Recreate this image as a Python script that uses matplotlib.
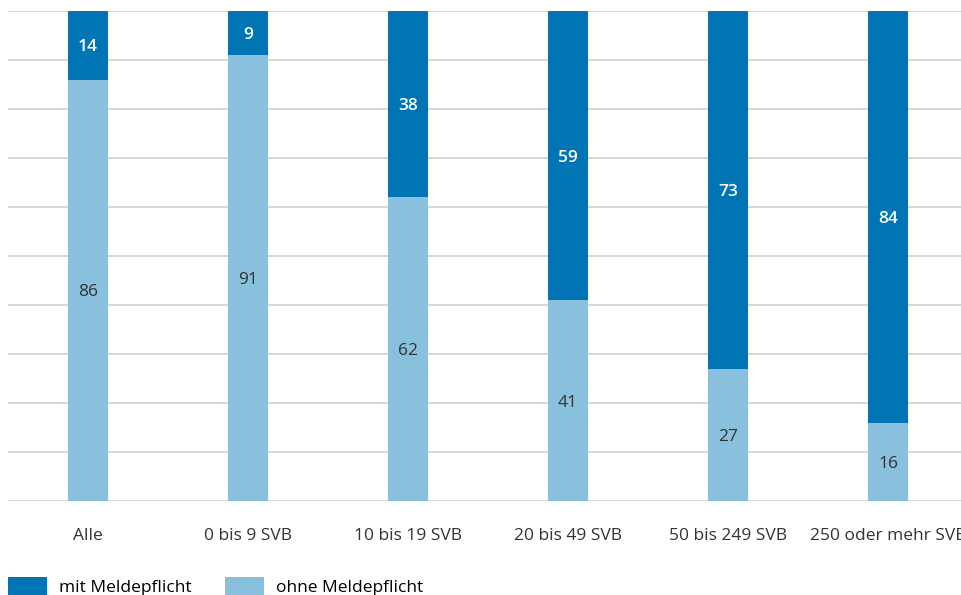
import matplotlib
matplotlib.use("Agg")
import matplotlib.pyplot as plt
import numpy as np

plt.rcParams['font.family'] = ['Open Sans', 'DejaVu Sans']

categories = ["Alle", "0 bis 9 SVB", "10 bis 19 SVB", "20 bis 49 SVB",
              "50 bis 249 SVB", "250 oder mehr SVB"]
ohne_meldepflicht = [86, 91, 62, 41, 27, 16]
mit_meldepflicht = [14, 9, 38, 59, 73, 84]

dark = "#0074B4"
light = "#88C0DD"
fs = 12.5

W, H = 961, 595
fig = plt.figure(figsize=(W / 100, H / 100), dpi=100)
ax = fig.add_axes([8 / W, 94 / H, 960 / W, 490 / H])

x = np.arange(len(categories))
bw = 0.25
ax.bar(x, ohne_meldepflicht, bw, color=light, zorder=3, label="ohne Meldepflicht")
ax.bar(x, mit_meldepflicht, bw, bottom=ohne_meldepflicht, color=dark, zorder=3,
       label="mit Meldepflicht")

for xi, lo, hi in zip(x, ohne_meldepflicht, mit_meldepflicht):
    ax.text(xi, lo / 2, f"{lo}", ha="center", va="center_baseline", fontsize=fs,
            color="#333333", zorder=4)
    ax.text(xi, lo + hi / 2, f"{hi}", ha="center", va="center_baseline", fontsize=fs,
            color="white", fontweight="semibold", zorder=4)

ax.set_xlim(-0.5, len(categories) - 0.5)
ax.set_ylim(0, 100)
ax.set_yticks(np.arange(0, 101, 10))
ax.yaxis.grid(True, color="#CFCFCF", linewidth=1.2, zorder=0)
ax.tick_params(axis="y", left=False, labelleft=False)
ax.tick_params(axis="x", bottom=False, pad=16)
ax.set_xticks(x)
ax.set_xticklabels(categories, fontsize=fs, color="#333333")
for s in ax.spines.values():
    s.set_visible(False)

handles, labels = ax.get_legend_handles_labels()
fig.legend(handles[::-1], labels[::-1], loc="upper left",
           bbox_to_anchor=(8 / W, 1 - 577 / H), frameon=False, fontsize=fs,
           ncol=2, handlelength=2.25, handleheight=1.3, handletextpad=0.7,
           columnspacing=1.9, borderpad=0, borderaxespad=0)

fig.savefig("out.png", dpi=100)
